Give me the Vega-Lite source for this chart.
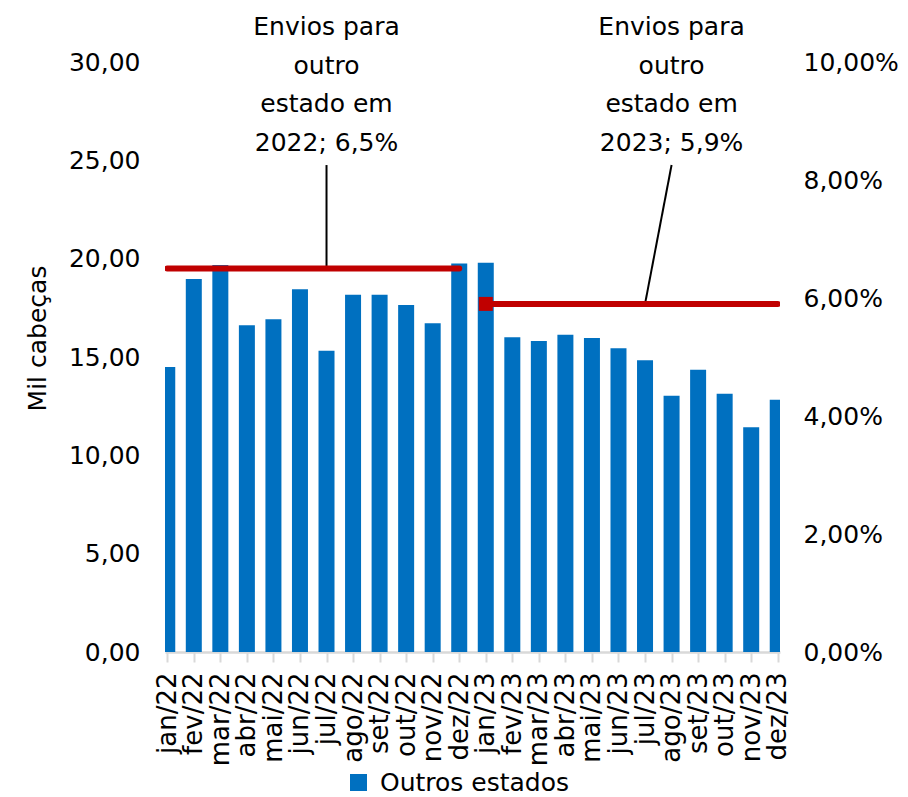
{
  "$schema": "https://vega.github.io/schema/vega-lite/v6.json",
  "width": 615,
  "height": 590,
  "autosize": {"type": "none"},
  "padding": {"left": 165, "top": 62, "right": 128, "bottom": 145},
  "background": "white",
  "config": {
    "locale": {"number": {"decimal": ",", "thousands": ".", "grouping": [3], "currency": ["R$", ""]}},
    "font": "DejaVu Sans",
    "view": {"stroke": null},
    "axis": {"grid": false, "labelColor": "#000000", "titleColor": "#000000", "labelFont": "DejaVu Sans", "titleFont": "DejaVu Sans"}
  },
  "datasets": {
    "bars": [
      {"mes": "jan/22", "v": 14.49, "serie": "Outros estados"},
      {"mes": "fev/22", "v": 18.97, "serie": "Outros estados"},
      {"mes": "mar/22", "v": 19.68, "serie": "Outros estados"},
      {"mes": "abr/22", "v": 16.61, "serie": "Outros estados"},
      {"mes": "mai/22", "v": 16.92, "serie": "Outros estados"},
      {"mes": "jun/22", "v": 18.44, "serie": "Outros estados"},
      {"mes": "jul/22", "v": 15.32, "serie": "Outros estados"},
      {"mes": "ago/22", "v": 18.17, "serie": "Outros estados"},
      {"mes": "set/22", "v": 18.17, "serie": "Outros estados"},
      {"mes": "out/22", "v": 17.64, "serie": "Outros estados"},
      {"mes": "nov/22", "v": 16.71, "serie": "Outros estados"},
      {"mes": "dez/22", "v": 19.76, "serie": "Outros estados"},
      {"mes": "jan/23", "v": 19.79, "serie": "Outros estados"},
      {"mes": "fev/23", "v": 16.0, "serie": "Outros estados"},
      {"mes": "mar/23", "v": 15.81, "serie": "Outros estados"},
      {"mes": "abr/23", "v": 16.13, "serie": "Outros estados"},
      {"mes": "mai/23", "v": 15.97, "serie": "Outros estados"},
      {"mes": "jun/23", "v": 15.44, "serie": "Outros estados"},
      {"mes": "jul/23", "v": 14.83, "serie": "Outros estados"},
      {"mes": "ago/23", "v": 13.03, "serie": "Outros estados"},
      {"mes": "set/23", "v": 14.35, "serie": "Outros estados"},
      {"mes": "out/23", "v": 13.13, "serie": "Outros estados"},
      {"mes": "nov/23", "v": 11.43, "serie": "Outros estados"},
      {"mes": "dez/23", "v": 12.83, "serie": "Outros estados"}
    ],
    "linhas": [
      {"mes": "jan/22", "pct": 0.065, "ano": "2022"},
      {"mes": "dez/22", "pct": 0.065, "ano": "2022"},
      {"mes": "jan/23", "pct": 0.059, "ano": "2023"},
      {"mes": "dez/23", "pct": 0.059, "ano": "2023"}
    ],
    "marcador": [
      {"mes": "jan/23", "pct": 0.059}
    ],
    "rotulos": [
      {"mes": "jul/22", "y": 31.37, "t": "Envios para\noutro\nestado em\n2022; 6,5%"},
      {"mes": "ago/23", "y": 31.37, "t": "Envios para\noutro\nestado em\n2023; 5,9%"}
    ],
    "guias": [
      {"mes": "jul/22", "mes2": "jul/22", "y": 24.76, "y2": 19.5},
      {"mes": "ago/23", "mes2": "jul/23", "y": 24.76, "y2": 17.7}
    ]
  },
  "layer": [
    {
      "layer": [
        {
          "data": {"name": "bars"},
          "mark": {"type": "bar", "size": 16, "clip": true, "color": "#0070C0"},
          "encoding": {
            "x": {
              "field": "mes", "type": "ordinal",
              "scale": {"type": "point", "padding": 0.085, "domain": ["jan/22","fev/22","mar/22","abr/22","mai/22","jun/22","jul/22","ago/22","set/22","out/22","nov/22","dez/22","jan/23","fev/23","mar/23","abr/23","mai/23","jun/23","jul/23","ago/23","set/23","out/23","nov/23","dez/23"]},
              "axis": {"title": null, "labelAngle": -90, "labelFontSize": 26, "labelPadding": 10, "labelOverlap": false, "labelBound": false, "domainColor": "#D9D9D9", "domainWidth": 2.5, "tickColor": "#D9D9D9", "tickWidth": 2, "tickSize": 10}
            },
            "y": {
              "field": "v", "type": "quantitative",
              "scale": {"domain": [0, 30], "nice": false},
              "axis": {"values": [0, 5, 10, 15, 20, 25, 30], "format": ".2f", "title": "Mil cabeças", "titleFontSize": 25, "titleFontWeight": "normal", "titleX": -128, "titleY": 276, "titleBaseline": "middle", "titleAlign": "center", "titleAngle": -90, "labelFontSize": 25, "labelPadding": 25, "ticks": false, "domain": false}
            },
            "color": {
              "field": "serie", "type": "nominal",
              "scale": {"range": ["#0070C0"]},
              "legend": {"orient": "none", "legendX": 181, "legendY": 708, "title": null, "symbolType": "square", "symbolSize": 289, "symbolStrokeWidth": 0, "labelFontSize": 25, "labelColor": "#000000", "labelOffset": 9, "labelLimit": 0, "padding": 0}
            }
          }
        },
        {
          "data": {"name": "guias"},
          "mark": {"type": "rule", "color": "#000000", "strokeWidth": 2},
          "encoding": {
            "x": {"field": "mes", "type": "ordinal", "scale": {"domain": ["jan/22","fev/22","mar/22","abr/22","mai/22","jun/22","jul/22","ago/22","set/22","out/22","nov/22","dez/22","jan/23","fev/23","mar/23","abr/23","mai/23","jun/23","jul/23","ago/23","set/23","out/23","nov/23","dez/23"]}},
            "x2": {"field": "mes2"},
            "y": {"field": "y", "type": "quantitative"},
            "y2": {"field": "y2"}
          }
        },
        {
          "data": {"name": "rotulos"},
          "mark": {"type": "text", "fontSize": 25, "color": "#000000", "align": "center", "baseline": "alphabetic", "lineBreak": "\n", "lineHeight": 38.5, "font": "DejaVu Sans"},
          "encoding": {
            "x": {"field": "mes", "type": "ordinal", "scale": {"domain": ["jan/22","fev/22","mar/22","abr/22","mai/22","jun/22","jul/22","ago/22","set/22","out/22","nov/22","dez/22","jan/23","fev/23","mar/23","abr/23","mai/23","jun/23","jul/23","ago/23","set/23","out/23","nov/23","dez/23"]}},
            "y": {"field": "y", "type": "quantitative"},
            "text": {"field": "t", "type": "nominal"}
          }
        }
      ]
    },
    {
      "layer": [
        {
          "data": {"name": "linhas"},
          "mark": {"type": "line", "color": "#C00000", "strokeWidth": 6, "strokeCap": "round", "clip": true},
          "encoding": {
            "x": {"field": "mes", "type": "ordinal", "scale": {"domain": ["jan/22","fev/22","mar/22","abr/22","mai/22","jun/22","jul/22","ago/22","set/22","out/22","nov/22","dez/22","jan/23","fev/23","mar/23","abr/23","mai/23","jun/23","jul/23","ago/23","set/23","out/23","nov/23","dez/23"]}},
            "y": {
              "field": "pct", "type": "quantitative",
              "scale": {"domain": [0, 0.1], "nice": false},
              "axis": {"orient": "right", "values": [0, 0.02, 0.04, 0.06, 0.08, 0.1], "format": ".2%", "title": null, "labelFontSize": 25, "labelPadding": 23, "ticks": false, "domain": false}
            },
            "detail": {"field": "ano", "type": "nominal"}
          }
        },
        {
          "data": {"name": "marcador"},
          "mark": {"type": "point", "shape": "square", "size": 196, "filled": true, "color": "#C00000", "opacity": 1},
          "encoding": {
            "x": {"field": "mes", "type": "ordinal", "scale": {"domain": ["jan/22","fev/22","mar/22","abr/22","mai/22","jun/22","jul/22","ago/22","set/22","out/22","nov/22","dez/22","jan/23","fev/23","mar/23","abr/23","mai/23","jun/23","jul/23","ago/23","set/23","out/23","nov/23","dez/23"]}},
            "y": {"field": "pct", "type": "quantitative"}
          }
        }
      ]
    }
  ],
  "resolve": {"scale": {"y": "independent"}}
}
